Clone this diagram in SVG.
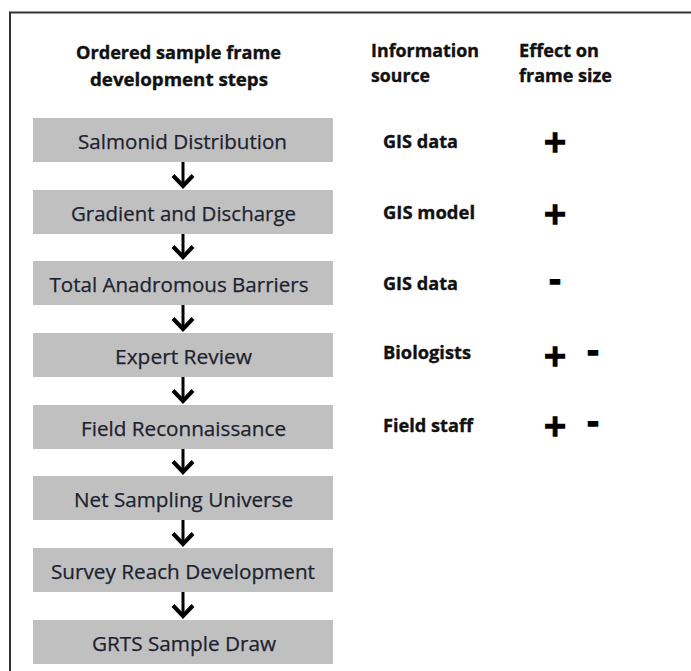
<svg xmlns="http://www.w3.org/2000/svg" width="691" height="671" viewBox="0 0 691 671">
<style>
.box{fill:#c0c0c0;}
.step{font-family:"Open Sans","Liberation Sans",sans-serif;font-size:20.5px;fill:#1c2230;text-anchor:middle;stroke:#1c2230;stroke-width:0.25px;}
.hdr{font-family:"Open Sans","Liberation Sans",sans-serif;font-size:17px;font-weight:bold;fill:#111;stroke:#111;stroke-width:0.35px;}
.src{font-family:"Open Sans","Liberation Sans",sans-serif;font-size:18px;font-weight:bold;fill:#111;stroke:#111;stroke-width:0.35px;}
.sign{font-family:"DejaVu Sans",sans-serif;font-size:30px;font-weight:bold;fill:#000;stroke:#000;stroke-width:1.3px;text-anchor:middle;}
.arrow{stroke:#000;stroke-width:3;fill:none;marker-end:url(#head);}
</style>
<defs>
<marker id="head" markerUnits="userSpaceOnUse" viewBox="-15 -15 30 30" markerWidth="30" markerHeight="30" refX="0" refY="0" orient="auto" overflow="visible">
<path d="M-10.5,-10 L0,0 L-10.5,10" fill="none" stroke="#000" stroke-width="4" stroke-linejoin="miter"/>
</marker>
</defs>
<rect id="frame" x="10" y="12.5" width="700" height="700" fill="none" stroke="#333" stroke-width="2"/>
<g id="headers">
<text class="hdr" x="76" y="59" textLength="205" lengthAdjust="spacingAndGlyphs">Ordered sample frame</text>
<text class="hdr" x="90" y="86" textLength="178" lengthAdjust="spacingAndGlyphs">development steps</text>
<text class="hdr" x="371" y="57" textLength="108" lengthAdjust="spacingAndGlyphs">Information</text>
<text class="hdr" x="371" y="82" textLength="59" lengthAdjust="spacingAndGlyphs">source</text>
<text class="hdr" x="519" y="57" textLength="80" lengthAdjust="spacingAndGlyphs">Effect on</text>
<text class="hdr" x="519" y="82" textLength="93" lengthAdjust="spacingAndGlyphs">frame size</text>
</g>
<g id="connectors">
<line class="arrow" x1="183" y1="162" x2="183" y2="186"/>
<line class="arrow" x1="183" y1="234" x2="183" y2="257"/>
<line class="arrow" x1="183" y1="305" x2="183" y2="329"/>
<line class="arrow" x1="183" y1="377" x2="183" y2="401"/>
<line class="arrow" x1="183" y1="449" x2="183" y2="472"/>
<line class="arrow" x1="183" y1="520" x2="183" y2="544"/>
<line class="arrow" x1="183" y1="592" x2="183" y2="616"/>
</g>
<g id="step1"><rect class="box" x="33" y="118" width="300" height="44"/><text class="step" x="182.5" y="148.5" textLength="209" lengthAdjust="spacingAndGlyphs">Salmonid Distribution</text></g>
<g id="step2"><rect class="box" x="33" y="190" width="300" height="44"/><text class="step" x="183.5" y="220.5" textLength="225" lengthAdjust="spacingAndGlyphs">Gradient and Discharge</text></g>
<g id="step3"><rect class="box" x="33" y="261" width="300" height="44"/><text class="step" x="179" y="291.5" textLength="259" lengthAdjust="spacingAndGlyphs">Total Anadromous Barriers</text></g>
<g id="step4"><rect class="box" x="33" y="333" width="300" height="44"/><text class="step" x="183.5" y="363.5" textLength="137" lengthAdjust="spacingAndGlyphs">Expert Review</text></g>
<g id="step5"><rect class="box" x="33" y="405" width="300" height="44"/><text class="step" x="183.5" y="435.5" textLength="205" lengthAdjust="spacingAndGlyphs">Field Reconnaissance</text></g>
<g id="step6"><rect class="box" x="33" y="476" width="300" height="44"/><text class="step" x="183.5" y="506.5" textLength="219" lengthAdjust="spacingAndGlyphs">Net Sampling Universe</text></g>
<g id="step7"><rect class="box" x="33" y="548" width="300" height="44"/><text class="step" x="183" y="578.5" textLength="264" lengthAdjust="spacingAndGlyphs">Survey Reach Development</text></g>
<g id="step8"><rect class="box" x="33" y="620" width="300" height="44"/><text class="step" x="184" y="650.5" textLength="184" lengthAdjust="spacingAndGlyphs">GRTS Sample Draw</text></g>
<g id="sources">
<text class="src" x="383" y="148" textLength="75" lengthAdjust="spacingAndGlyphs">GIS data</text>
<text class="src" x="383" y="219" textLength="92" lengthAdjust="spacingAndGlyphs">GIS model</text>
<text class="src" x="383" y="290" textLength="75" lengthAdjust="spacingAndGlyphs">GIS data</text>
<text class="src" x="383" y="359" textLength="88" lengthAdjust="spacingAndGlyphs">Biologists</text>
<text class="src" x="383" y="432" textLength="90" lengthAdjust="spacingAndGlyphs">Field staff</text>
</g>
<g id="effects">
<text class="sign" x="555" y="152">+</text>
<text class="sign" x="555" y="224">+</text>
<text class="sign" x="555" y="291">-</text>
<text class="sign" x="555" y="366">+</text>
<text class="sign" x="593" y="362">-</text>
<text class="sign" x="555" y="436">+</text>
<text class="sign" x="593" y="433">-</text>
</g>
</svg>
